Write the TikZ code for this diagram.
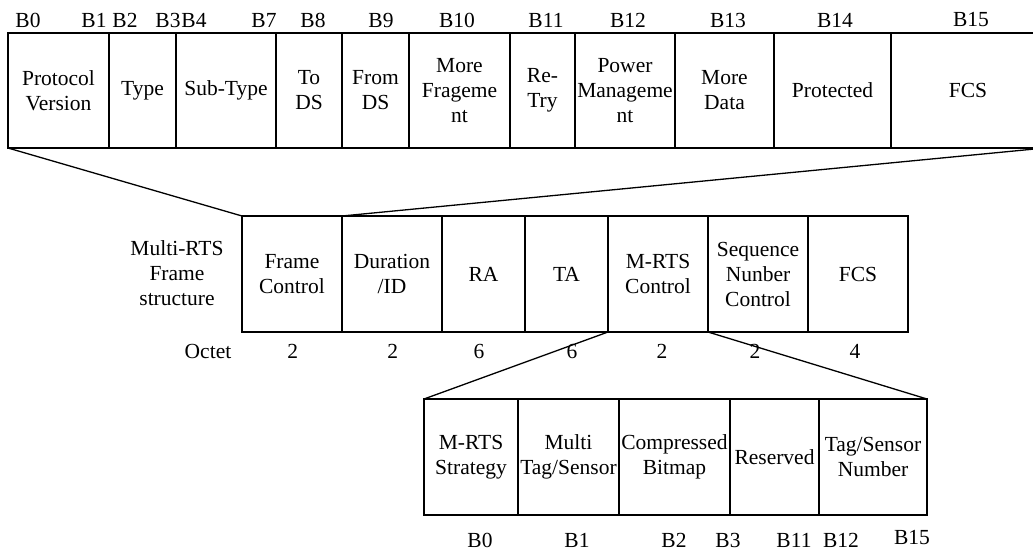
\documentclass[tikz,border=0pt]{standalone}
\usepackage{fontspec}
\setmainfont{Liberation Serif}
\newcommand{\fieldfont}{\fontsize{21.5}{25}\selectfont}
\tikzset{
  cell/.style={draw, line width=1.3pt, inner sep=0pt, outer sep=0pt,
    align=center, anchor=north west, font=\fieldfont},
  toprow/.style={cell, minimum height=115pt},
  midrow/.style={cell, minimum height=116pt},
  botrow/.style={cell, minimum height=116pt},
  lbl/.style={inner sep=0pt, align=center, font=\fieldfont},
  link/.style={line width=1.3pt},
}
\begin{document}
\begin{tikzpicture}[x=1pt, y=-1pt]
\useasboundingbox (0,0) rectangle (1033,552);

% Frame control field, bit by bit
\node[toprow, minimum width=101pt] (pv)  at (8,33)   {Protocol\\Version};
\node[toprow, minimum width=67pt]  (ty)  at (109,33) {Type};
\node[toprow, minimum width=100pt] (st)  at (176,33) {Sub-Type};
\node[toprow, minimum width=66pt]  (tds) at (276,33) {To\\DS};
\node[toprow, minimum width=67pt]  (fds) at (342,33) {From\\DS};
\node[toprow, minimum width=101pt] (mf)  at (409,33) {More\\Frageme\\nt};
\node[toprow, minimum width=65pt]  (rt)  at (510,33) {Re-\\Try};
\node[toprow, minimum width=100pt] (pm)  at (575,33) {Power\\Manageme\\nt};
\node[toprow, minimum width=99pt]  (md)  at (675,33) {More\\Data};
\node[toprow, minimum width=117pt] (pr)  at (774,33) {Protected};
\node[toprow, minimum width=154pt] (fcs) at (891,33) {FCS};

% bit numbers above the frame control field
\node[lbl] (tb0)  at (28,20)  {B0};
\node[lbl] (tb1)  at (94,20)  {B1};
\node[lbl] (tb2)  at (125,20) {B2};
\node[lbl] (tb3)  at (168,20) {B3};
\node[lbl] (tb4)  at (194,20) {B4};
\node[lbl] (tb7)  at (264,20) {B7};
\node[lbl] (tb8)  at (313,20) {B8};
\node[lbl] (tb9)  at (381,20) {B9};
\node[lbl] (tb10) at (457,20) {B10};
\node[lbl] (tb11) at (546,20) {B11};
\node[lbl] (tb12) at (628,20) {B12};
\node[lbl] (tb13) at (728,20) {B13};
\node[lbl] (tb14) at (835,20) {B14};
\node[lbl] (tb15) at (971,20) {B15};

% Multi-RTS frame
\node[lbl] (title) at (177,273) {Multi-RTS\\Frame\\structure};
\node[midrow, minimum width=100pt] (fc)   at (242,216) {Frame\\Control};
\node[midrow, minimum width=100pt] (du)   at (342,216) {Duration\\/ID};
\node[midrow, minimum width=83pt]  (ra)   at (442,216) {RA};
\node[midrow, minimum width=83pt]  (ta)   at (525,216) {TA};
\node[midrow, minimum width=100pt] (mc)   at (608,216) {M-RTS\\Control};
\node[midrow, minimum width=100pt] (sn)   at (708,216) {Sequence\\Nunber\\Control};
\node[midrow, minimum width=100pt] (fcs2) at (808,216) {FCS};

% field lengths in octets
\node[lbl] (oct) at (208,351) {Octet};
\node[lbl] (o1) at (292.7,351) {2};
\node[lbl] (o2) at (392.7,351) {2};
\node[lbl] (o3) at (479,351)   {6};
\node[lbl] (o4) at (572,351)   {6};
\node[lbl] (o5) at (662,351)   {2};
\node[lbl] (o6) at (755,351)   {2};
\node[lbl] (o7) at (855,351)   {4};

% M-RTS control field
\node[botrow, minimum width=94pt]  (ms) at (424,399) {M-RTS\\Strategy};
\node[botrow, minimum width=101pt] (mt) at (518,399) {Multi\\Tag/Sensor};
\node[botrow, minimum width=111pt] (cb) at (619,399) {Compressed\\Bitmap};
\node[botrow, minimum width=89pt]  (rs) at (730,399) {Reserved};
\node[botrow, minimum width=108pt] (tn) at (819,399) {Tag/Sensor\\Number};

% bit numbers below the M-RTS control field
\node[lbl] (bb0)  at (480,540) {B0};
\node[lbl] (bb1)  at (577,540) {B1};
\node[lbl] (bb2)  at (674,540) {B2};
\node[lbl] (bb3)  at (728,540) {B3};
\node[lbl] (bb11) at (794,540) {B11};
\node[lbl] (bb12) at (841,540) {B12};
\node[lbl] (bb15) at (912,537) {B15};

% expansion lines
\draw[link] (pv.south west) -- (fc.north west);
\draw[link] (fcs.south east) -- (fc.north east);
\draw[link] (mc.south west) -- (ms.north west);
\draw[link] (mc.south east) -- (tn.north east);
\end{tikzpicture}
\end{document}
